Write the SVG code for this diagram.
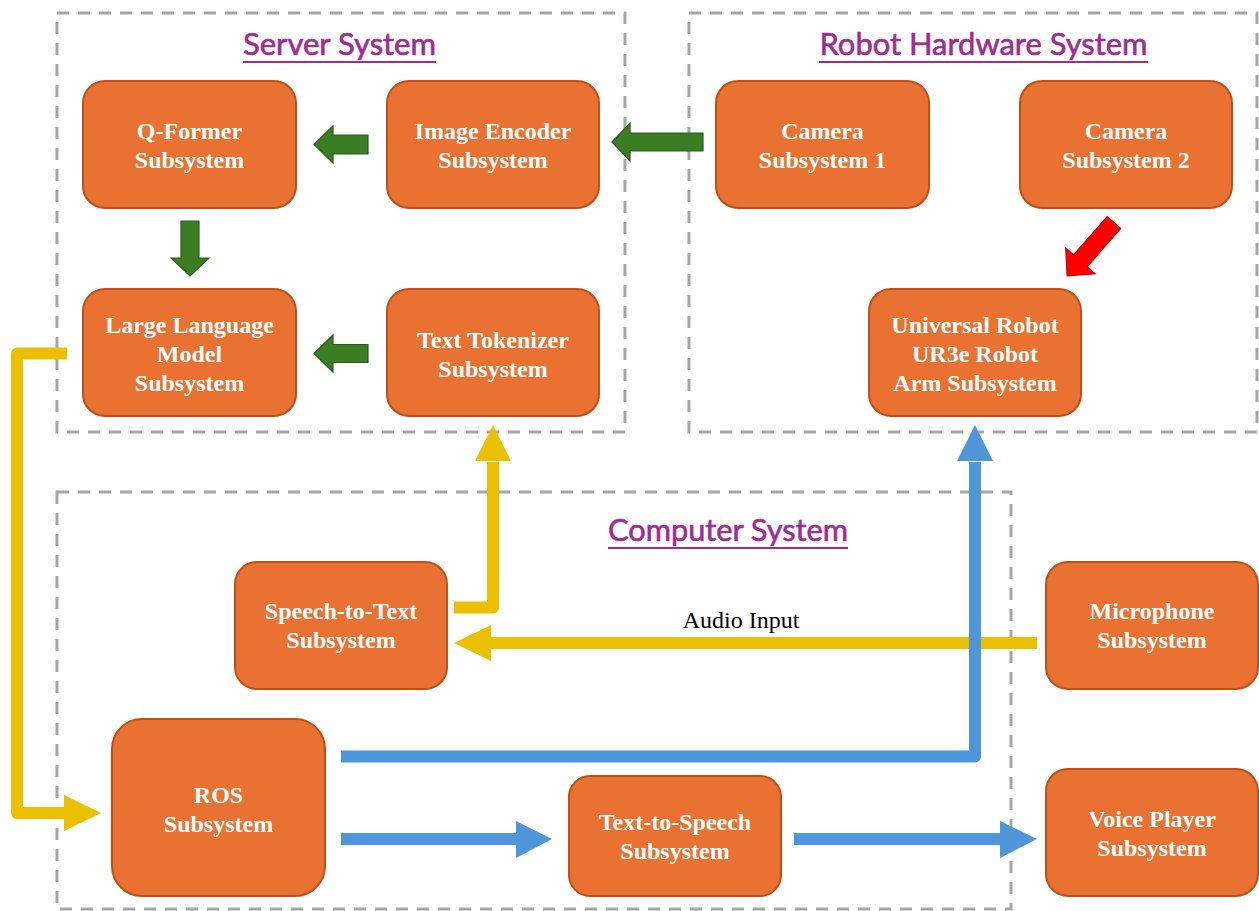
<svg xmlns="http://www.w3.org/2000/svg" width="1259" height="911" viewBox="0 0 1259 911">
<style>
.box{fill:none;stroke:#A6A6A6;stroke-width:3;stroke-dasharray:12 9}
.title{font-family:Lato,"Noto Sans","DejaVu Sans",sans-serif;font-size:30px;fill:#A02B93;stroke:#A02B93;stroke-width:0.6;text-anchor:middle}
.uline{stroke:#A02B93;stroke-width:2}
.node rect{fill:#E97132;stroke:#C04F15;stroke-width:2}
.node text{font-family:"Liberation Serif","Times New Roman",serif;font-weight:bold;font-size:24px;fill:#FFFFFF;text-anchor:middle}
.green{fill:#3A7D22;stroke:#2A5C18;stroke-width:1.2}
.red{fill:#FF0000;stroke:#C00000;stroke-width:1.2}
.yl{fill:none;stroke:#EBC000;stroke-width:12;stroke-linejoin:round}
.yh{fill:#EBC000}
.bl{fill:none;stroke:#4E95D9;stroke-width:12;stroke-linejoin:round}
.bh{fill:#4E95D9}
.lbl{font-family:"Liberation Serif","Times New Roman",serif;font-size:24px;fill:#000;text-anchor:middle}
</style>
<rect width="1259" height="911" fill="#FFFFFF"/>

<g id="containers">
  <g id="server-system">
    <rect class="box" x="57" y="13" width="568" height="419"/>
    <text class="title" x="339.5" y="55" textLength="193" lengthAdjust="spacingAndGlyphs">Server System</text>
    <line class="uline" x1="243" y1="62" x2="436" y2="62"/>
  </g>
  <g id="robot-hardware-system">
    <rect class="box" x="689" y="13" width="568" height="419"/>
    <text class="title" x="983.5" y="55" textLength="328" lengthAdjust="spacingAndGlyphs">Robot Hardware System</text>
    <line class="uline" x1="819" y1="62" x2="1148" y2="62"/>
  </g>
  <g id="computer-system">
    <rect class="box" x="57" y="492" width="954" height="417"/>
    <text class="title" x="728" y="541" textLength="240" lengthAdjust="spacingAndGlyphs">Computer System</text>
    <line class="uline" x1="608" y1="548" x2="848" y2="548"/>
  </g>
</g>

<g id="nodes">
  <g id="q-former" class="node">
    <rect x="83" y="81" width="213" height="127" rx="22"/>
    <text x="189.5" y="139">Q-Former</text>
    <text x="189.5" y="168">Subsystem</text>
  </g>
  <g id="image-encoder" class="node">
    <rect x="387" y="81" width="212" height="127" rx="22"/>
    <text x="493" y="139">Image Encoder</text>
    <text x="493" y="168">Subsystem</text>
  </g>
  <g id="camera-1" class="node">
    <rect x="716" y="81" width="213" height="127" rx="22"/>
    <text x="822.5" y="139">Camera</text>
    <text x="822.5" y="168">Subsystem 1</text>
  </g>
  <g id="camera-2" class="node">
    <rect x="1020" y="81" width="212" height="127" rx="22"/>
    <text x="1126" y="139">Camera</text>
    <text x="1126" y="168">Subsystem 2</text>
  </g>
  <g id="llm" class="node">
    <rect x="83" y="289" width="213" height="127" rx="22"/>
    <text x="189.5" y="333">Large Language</text>
    <text x="189.5" y="362">Model</text>
    <text x="189.5" y="391">Subsystem</text>
  </g>
  <g id="text-tokenizer" class="node">
    <rect x="387" y="289" width="212" height="127" rx="22"/>
    <text x="493" y="348">Text Tokenizer</text>
    <text x="493" y="377">Subsystem</text>
  </g>
  <g id="ur3e" class="node">
    <rect x="869" y="289" width="212" height="127" rx="22"/>
    <text x="975" y="333">Universal Robot</text>
    <text x="975" y="362">UR3e Robot</text>
    <text x="975" y="391">Arm Subsystem</text>
  </g>
  <g id="speech-to-text" class="node">
    <rect x="235" y="562" width="212" height="127" rx="22"/>
    <text x="341" y="619">Speech-to-Text</text>
    <text x="341" y="648">Subsystem</text>
  </g>
  <g id="microphone" class="node">
    <rect x="1046" y="562" width="212" height="127" rx="22"/>
    <text x="1152" y="619">Microphone</text>
    <text x="1152" y="648">Subsystem</text>
  </g>
  <g id="ros" class="node">
    <rect x="112" y="719" width="213" height="177" rx="30"/>
    <text x="218.5" y="803">ROS</text>
    <text x="218.5" y="832">Subsystem</text>
  </g>
  <g id="text-to-speech" class="node">
    <rect x="569" y="776" width="212" height="120" rx="21"/>
    <text x="675" y="830">Text-to-Speech</text>
    <text x="675" y="859">Subsystem</text>
  </g>
  <g id="voice-player" class="node">
    <rect x="1046" y="769" width="212" height="127" rx="22"/>
    <text x="1152" y="827">Voice Player</text>
    <text x="1152" y="856">Subsystem</text>
  </g>
</g>

<g id="connectors">
  <polygon class="green" points="314,144.5 333,126 333,135 368,135 368,154 333,154 333,163"/>
  <polygon class="green" points="612,142 630,123 630,133 703,133 703,151 630,151 630,161"/>
  <polygon class="green" points="181,221 199,221 199,258 209,258 190,276 171,258 181,258"/>
  <polygon class="green" points="314,353.5 333,335 333,344.5 368,344.5 368,362.5 333,362.5 333,372"/>
  <polygon class="red" transform="translate(1114,222.5) rotate(131.3)" points="0,-9 51,-9 51,-19.5 71,0 51,19.5 51,9 0,9"/>

  <path class="yl" d="M67,353.5 H17 V813 H66"/>
  <polygon class="yh" points="64,795 101,813 64,831"/>
  <path class="yl" d="M454,607.5 H493 V462"/>
  <polygon class="yh" points="475,461 511,461 493,425"/>
  <path class="yl" d="M1037,643 H489"/>
  <polygon class="yh" points="491,625 491,661 454,643"/>
  <text class="lbl" x="741" y="628">Audio Input</text>

  <path class="bl" d="M341,756.5 H975 V462"/>
  <polygon class="bh" points="957,461 993,461 975,425"/>
  <path class="bl" d="M341,839 H518"/>
  <polygon class="bh" points="516,821 552,839 516,858"/>
  <path class="bl" d="M794,839 H1002"/>
  <polygon class="bh" points="1000,821 1037,839 1000,858"/>
</g>
</svg>
